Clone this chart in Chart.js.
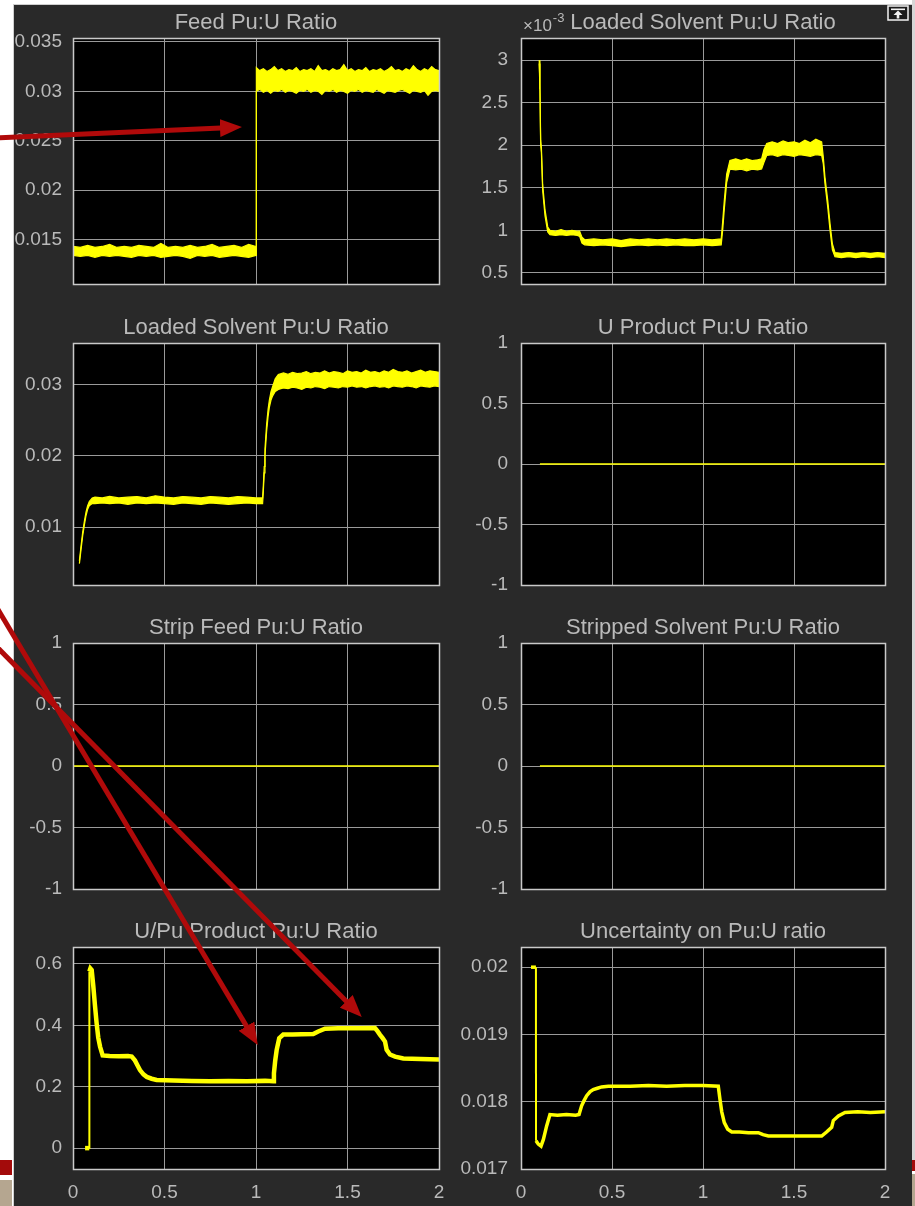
<!DOCTYPE html>
<html>
<head>
<meta charset="utf-8">
<title>Pu:U Ratio scopes</title>
<script src="https://cdn.jsdelivr.net/npm/chart.js@4.4.1/dist/chart.umd.min.js"></script>
<style>
  html, body { margin: 0; padding: 0; background: #ffffff; }
  #page { position: relative; width: 915px; height: 1206px; overflow: hidden; background: #ffffff; }
  #figure { position: absolute; left: 13px; top: 4px; width: 899px; height: 1202px;
            background: #292929; border-left: 1px solid #cfcfcf; border-top: 1px solid #cfcfcf;
            box-sizing: border-box; }
  #edge { position: absolute; left: 912px; top: 0; width: 3px; height: 1160px; background: #d6d6d6; }
  .deco { position: absolute; }
  canvas { position: absolute; }
  #overlay { position: absolute; left: 0; top: 0; pointer-events: none; }
</style>
</head>
<body>
<div id="page">
  <div id="figure"></div>
  <div id="edge"></div>
  <div class="deco" style="left:0;top:1160px;width:12px;height:15px;background:#a30b0b"></div>
  <div class="deco" style="left:0;top:1180px;width:12px;height:26px;background:#b5a690"></div>
  <div class="deco" style="left:912px;top:1160px;width:3px;height:11px;background:#a30b0b"></div>
  <div class="deco" style="left:912px;top:1174px;width:3px;height:32px;background:#b5a690"></div>

  <canvas id="cFeed"      width="441" height="296" style="left:14px;top:4px"></canvas>
  <canvas id="cLoadedTop" width="457" height="296" style="left:455px;top:4px"></canvas>
  <canvas id="cLoaded"    width="441" height="300" style="left:14px;top:300px"></canvas>
  <canvas id="cUProd"     width="457" height="300" style="left:455px;top:300px"></canvas>
  <canvas id="cStrip"     width="441" height="300" style="left:14px;top:600px"></canvas>
  <canvas id="cStripped"  width="457" height="300" style="left:455px;top:600px"></canvas>
  <canvas id="cUPu"       width="441" height="306" style="left:14px;top:900px"></canvas>
  <canvas id="cUncert"    width="457" height="306" style="left:455px;top:900px"></canvas>

  <!-- callout arrows and the undock button drawn over the figure -->
  <svg id="overlay" width="915" height="1206" viewBox="0 0 915 1206">
    <defs>
      <marker id="head" markerUnits="userSpaceOnUse" markerWidth="22" markerHeight="18"
              viewBox="0 0 22 18" refX="1" refY="9" orient="auto">
        <path d="M0,0 L22,9 L0,18 z" fill="#b00a0a"></path>
      </marker>
    </defs>
    <g stroke="#b00a0a" stroke-width="5" fill="none">
      <line x1="-5" y1="138" x2="221" y2="128" marker-end="url(#head)"></line>
      <line x1="-10" y1="596" x2="247" y2="1027" marker-end="url(#head)"></line>
      <line x1="-10" y1="640" x2="347" y2="1002" marker-end="url(#head)"></line>
    </g>
    <g>
      <rect x="888" y="6" width="20" height="14" fill="#1c1c1c" stroke="#f2f2f2" stroke-width="1.5"></rect>
      <rect x="891" y="8.5" width="14" height="1.6" fill="#f2f2f2"></rect>
      <path d="M898,10.5 L902.5,15 L899.3,15 L899.3,18.5 L896.7,18.5 L896.7,15 L893.5,15 z" fill="#f2f2f2"></path>
    </g>
  </svg>
</div>

<script>
// ---- shared axis ----
const timeTicks = [0, 0.5, 1, 1.5, 2];

// ---- Feed Pu:U Ratio (upper / lower edge of the noisy trace) ----
const feedTime = [0, 0.04, 0.08, 0.12, 0.16, 0.2, 0.24, 0.28, 0.32, 0.36, 0.4, 0.44, 0.48, 0.52, 0.56, 0.6, 0.64, 0.68, 0.72, 0.76, 0.8, 0.84, 0.88, 0.92, 0.96, 1.0,
  1.002, 1.02, 1.04, 1.06, 1.08, 1.1, 1.12, 1.14, 1.16, 1.18, 1.2, 1.22, 1.24, 1.26, 1.28, 1.3, 1.32, 1.34, 1.36, 1.38, 1.4,
  1.42, 1.44, 1.46, 1.48, 1.5, 1.52, 1.54, 1.56, 1.58, 1.6, 1.62, 1.64, 1.66, 1.68, 1.7, 1.72, 1.74, 1.76, 1.78, 1.8,
  1.82, 1.84, 1.86, 1.88, 1.9, 1.92, 1.94, 1.96, 1.98, 2.0];
const feedHigh = [0.0143, 0.0142, 0.0144, 0.0142, 0.0143, 0.0145, 0.0142, 0.0143, 0.0142, 0.0144, 0.0143, 0.0142, 0.0146, 0.0142, 0.0143, 0.0142, 0.0144, 0.0142, 0.0143, 0.0145, 0.0142, 0.0143, 0.0144, 0.0142, 0.0145, 0.0143,
  0.0324, 0.0321, 0.0323, 0.0320, 0.0322, 0.0325, 0.0321, 0.0323, 0.0320, 0.0322, 0.0321, 0.0324, 0.0320, 0.0322, 0.0321, 0.0323, 0.0320, 0.0326, 0.0321, 0.0322, 0.0320,
  0.0323, 0.0321, 0.0322, 0.0327, 0.0321, 0.0323, 0.0320, 0.0322, 0.0321, 0.0324, 0.0320, 0.0322, 0.0321, 0.0323, 0.0320, 0.0322, 0.0325, 0.0321, 0.0322, 0.0320,
  0.0323, 0.0321, 0.0326, 0.0322, 0.0320, 0.0323, 0.0321, 0.0325, 0.0322, 0.0321];
const feedLow  = [0.0134, 0.0133, 0.0134, 0.0132, 0.0134, 0.0133, 0.0134, 0.0133, 0.0132, 0.0134, 0.0133, 0.0134, 0.0132, 0.0133, 0.0134, 0.0133, 0.0131, 0.0134, 0.0133, 0.0134, 0.0132, 0.0133, 0.0134, 0.0133, 0.0132, 0.0134,
  0.0300, 0.0302, 0.0299, 0.0301, 0.0298, 0.0301, 0.0300, 0.0302, 0.0299, 0.0301, 0.0300, 0.0298, 0.0301, 0.0300, 0.0302, 0.0299, 0.0301, 0.0300, 0.0297, 0.0301, 0.0300,
  0.0302, 0.0299, 0.0301, 0.0300, 0.0298, 0.0301, 0.0300, 0.0302, 0.0299, 0.0301, 0.0300, 0.0299, 0.0302, 0.0300, 0.0298, 0.0301, 0.0300, 0.0299, 0.0301, 0.0302,
  0.0300, 0.0298, 0.0301, 0.0300, 0.0299, 0.0301, 0.0296, 0.0300, 0.0301, 0.0300];
const feedTicks = [0.015, 0.02, 0.025, 0.03, 0.035];

// ---- Loaded Solvent Pu:U Ratio, right column (values x 10^-3) ----
const loadedTopTime = [0.100, 0.104, 0.108, 0.112, 0.119, 0.132, 0.147, 0.159, 0.19, 0.22, 0.25, 0.28, 0.31, 0.322, 0.335, 0.35,
                       0.40, 0.45, 0.50, 0.55, 0.60, 0.65, 0.70, 0.75, 0.80, 0.85, 0.90, 0.95, 1.00, 1.05, 1.100,
                       1.108, 1.117, 1.130, 1.148, 1.18, 1.21, 1.24, 1.27, 1.30, 1.322, 1.335, 1.350,
                       1.38, 1.41, 1.44, 1.47, 1.50, 1.53, 1.56, 1.59, 1.62, 1.652,
                       1.661, 1.670, 1.685, 1.698, 1.711, 1.725, 1.76, 1.80, 1.84, 1.88, 1.92, 1.96, 2.0];
const loadedTopHigh = [3.00, 2.72, 2.06, 1.98, 1.54, 1.24, 1.04, 1.00, 0.99, 1.01, 0.99, 1.00, 0.99, 0.99, 0.92, 0.89,
                       0.90, 0.89, 0.90, 0.88, 0.90, 0.89, 0.90, 0.89, 0.90, 0.89, 0.90, 0.89, 0.90, 0.89, 0.90,
                       1.10, 1.35, 1.66, 1.82, 1.84, 1.82, 1.84, 1.82, 1.83, 1.84, 1.95, 2.02,
                       2.04, 2.02, 2.05, 2.03, 2.04, 2.02, 2.06, 2.03, 2.07, 2.04,
                       1.86, 1.63, 1.36, 1.08, 0.84, 0.74, 0.73, 0.74, 0.73, 0.74, 0.73, 0.74, 0.73];
const loadedTopLow  = [2.96, 2.66, 2.00, 1.92, 1.47, 1.17, 0.98, 0.95, 0.94, 0.95, 0.94, 0.95, 0.94, 0.93, 0.85, 0.83,
                       0.82, 0.83, 0.82, 0.81, 0.82, 0.83, 0.82, 0.83, 0.82, 0.83, 0.82, 0.82, 0.83, 0.82, 0.83,
                       1.00, 1.25, 1.56, 1.72, 1.71, 1.72, 1.70, 1.72, 1.71, 1.72, 1.80, 1.88,
                       1.89, 1.87, 1.89, 1.88, 1.87, 1.89, 1.88, 1.87, 1.89, 1.88,
                       1.78, 1.55, 1.28, 1.00, 0.77, 0.69, 0.68, 0.69, 0.68, 0.69, 0.68, 0.69, 0.68];
const loadedTopTicks = [0.5, 1, 1.5, 2, 2.5, 3];

// ---- Loaded Solvent Pu:U Ratio, left column ----
const loadedTime = [0.035, 0.044, 0.053, 0.062, 0.071, 0.08, 0.089, 0.105, 0.12,
                    0.16, 0.2, 0.25, 0.3, 0.35, 0.4, 0.45, 0.5, 0.55, 0.6, 0.65, 0.7, 0.75, 0.8, 0.85, 0.9, 0.95, 1.0,
                    1.036, 1.040, 1.045, 1.049, 1.058, 1.066, 1.073, 1.082, 1.091, 1.105, 1.122,
                    1.15, 1.175, 1.2, 1.225, 1.25, 1.275, 1.3, 1.325, 1.35, 1.375, 1.4, 1.425, 1.45, 1.475, 1.5, 1.525, 1.55, 1.575,
                    1.6, 1.625, 1.65, 1.675, 1.7, 1.725, 1.75, 1.775, 1.8, 1.825, 1.85, 1.875, 1.9, 1.925, 1.95, 1.975, 2.0];
const loadedHigh = [0.0053, 0.0074, 0.0093, 0.0108, 0.0121, 0.0130, 0.0136, 0.0141, 0.0142,
                    0.0141, 0.0143, 0.0141, 0.0142, 0.0143, 0.0141, 0.0144, 0.0142, 0.0141, 0.0143, 0.0142, 0.0141, 0.0143, 0.0142, 0.0141, 0.0143, 0.0142, 0.0141,
                    0.0141, 0.0158, 0.0185, 0.0210, 0.0244, 0.0265, 0.0278, 0.0290, 0.0297, 0.0308, 0.0314,
                    0.0316, 0.0314, 0.0317, 0.0315, 0.0316, 0.0318, 0.0315, 0.0317, 0.0316, 0.0319, 0.0316, 0.0318, 0.0317, 0.0315, 0.0319, 0.0317, 0.0318, 0.0316,
                    0.0320, 0.0317, 0.0318, 0.0316, 0.0319, 0.0317, 0.0321, 0.0318, 0.0317, 0.0319, 0.0316, 0.0318, 0.0320, 0.0317, 0.0319, 0.0318, 0.0317];
const loadedLow  = [0.0049, 0.0069, 0.0088, 0.0103, 0.0116, 0.0125, 0.0130, 0.0133, 0.0133,
                    0.0134, 0.0133, 0.0134, 0.0132, 0.0134, 0.0133, 0.0134, 0.0133, 0.0132, 0.0134, 0.0133, 0.0132, 0.0134, 0.0133, 0.0132, 0.0133, 0.0134, 0.0133,
                    0.0133, 0.0150, 0.0176, 0.0200, 0.0234, 0.0255, 0.0268, 0.0278, 0.0284, 0.0290, 0.0293,
                    0.0295, 0.0294, 0.0296, 0.0295, 0.0293, 0.0296, 0.0295, 0.0297, 0.0296, 0.0294, 0.0297, 0.0296, 0.0295, 0.0297, 0.0296, 0.0298, 0.0296, 0.0297,
                    0.0295, 0.0297, 0.0298, 0.0296, 0.0297, 0.0295, 0.0298, 0.0297, 0.0296, 0.0298, 0.0297, 0.0295, 0.0298, 0.0297, 0.0296, 0.0298, 0.0297];
const loadedTicks = [0.01, 0.02, 0.03];

// ---- flat channels ----
const uProductTime = [0.104, 2.0];
const uProductValue = [0, 0];
const stripFeedTime = [0, 2.0];
const stripFeedValue = [0, 0];
const strippedTime = [0.104, 2.0];
const strippedValue = [0, 0];
const unitTicks = [-1, -0.5, 0, 0.5, 1];

// ---- U/Pu Product Pu:U Ratio ----
const uPuTime = [0.066, 0.089, 0.0895, 0.095, 0.102, 0.111, 0.120, 0.129, 0.138, 0.148, 0.162, 0.2, 0.25, 0.3, 0.321,
                 0.339, 0.352, 0.366, 0.385, 0.403, 0.43, 0.457, 0.55, 0.65, 0.75, 0.85, 0.95, 1.05, 1.095,
                 1.098, 1.105, 1.113, 1.127, 1.149, 1.2, 1.25, 1.313, 1.340, 1.377, 1.45, 1.55, 1.650,
                 1.665, 1.678, 1.692, 1.705, 1.714, 1.732, 1.760, 1.805, 1.9, 2.0];
const uPuValue = [0, 0, 0.575, 0.585, 0.58, 0.527, 0.465, 0.407, 0.36, 0.33, 0.302, 0.300, 0.299, 0.300, 0.298,
                  0.285, 0.270, 0.254, 0.240, 0.232, 0.226, 0.222, 0.220, 0.219, 0.218, 0.219, 0.218, 0.219, 0.218,
                  0.244, 0.285, 0.320, 0.358, 0.370, 0.370, 0.371, 0.372, 0.380, 0.389, 0.390, 0.390, 0.391,
                  0.380, 0.369, 0.358, 0.347, 0.320, 0.305, 0.298, 0.292, 0.290, 0.289];
const uPuTicks = [0, 0.2, 0.4, 0.6];

// ---- Uncertainty on Pu:U ratio ----
const uncertTime = [0.055, 0.082, 0.0825, 0.095, 0.110, 0.123, 0.141, 0.159, 0.2, 0.25, 0.3,
                    0.319, 0.333, 0.347, 0.361, 0.38, 0.397, 0.42, 0.443, 0.48, 0.6, 0.7, 0.8, 0.9, 1.0,
                    1.084, 1.093, 1.103, 1.117, 1.136, 1.158, 1.2, 1.25, 1.304, 1.33, 1.359, 1.45, 1.55, 1.652,
                    1.679, 1.707, 1.716, 1.744, 1.780, 1.85, 1.92, 2.0];
const uncertValue = [0.0200, 0.0200, 0.01742, 0.01737, 0.01734, 0.01744, 0.01764, 0.01781, 0.01780, 0.01781, 0.01780,
                     0.01781, 0.01794, 0.01802, 0.01809, 0.01815, 0.01818, 0.01820, 0.01822, 0.01823, 0.01823, 0.01824, 0.01823, 0.01824, 0.01824,
                     0.01823, 0.01804, 0.01785, 0.01769, 0.01759, 0.01755, 0.01755, 0.01754, 0.01754, 0.01751, 0.01749, 0.01749, 0.01749, 0.01749,
                     0.01755, 0.01762, 0.01772, 0.01779, 0.01784, 0.01785, 0.01784, 0.01785];
const uncertTicks = [0.017, 0.018, 0.019, 0.02];

// ---- styling ----
const FONT = '"Liberation Sans", Arial, Helvetica, sans-serif';
const TEXT = '#bababa';
const GRID = '#9a9a9a';
const BOX = '#c9c9c9';
const TRACE = '#ffff00';

const toPoints = (xs, ys) => xs.map((x, i) => ({ x, y: ys[i] }));
const fmt = v => String(+Number(v).toFixed(6));

// noisy trace drawn as the band between its lower and upper edge
function band(time, high, low) {
  return [
    { data: toPoints(time, low), borderColor: TRACE, borderWidth: 1.2, pointRadius: 0, fill: false },
    { data: toPoints(time, high), borderColor: TRACE, borderWidth: 1.2, pointRadius: 0,
      fill: '-1', backgroundColor: TRACE }
  ];
}
// single trace; strictly vertical steps are drawn thinner
function trace(time, values, width) {
  return [{
    data: toPoints(time, values), borderColor: TRACE, borderWidth: width, pointRadius: 0,
    segment: { borderWidth: c => (c.p1.parsed.x - c.p0.parsed.x < 0.001 ? Math.min(2, width) : width) }
  }];
}

// black axes background, box outline and optional exponent label
const panelFrame = {
  id: 'panelFrame',
  beforeDraw(chart) {
    const { ctx, chartArea: a } = chart;
    ctx.save();
    ctx.fillStyle = '#000000';
    ctx.fillRect(a.left, a.top, a.right - a.left, a.bottom - a.top);
    ctx.restore();
  },
  afterDatasetsDraw(chart) {
    const { ctx, chartArea: a } = chart;
    ctx.save();
    ctx.strokeStyle = BOX;
    ctx.lineWidth = 1.5;
    ctx.strokeRect(Math.round(a.left) + 0.5, Math.round(a.top) + 0.5,
                   Math.round(a.right - a.left), Math.round(a.bottom - a.top));
    ctx.restore();
  },
  afterDraw(chart, args, opts) {
    if (!opts.exponent) return;
    const { ctx, chartArea: a } = chart;
    ctx.save();
    ctx.fillStyle = TEXT;
    ctx.textBaseline = 'alphabetic';
    ctx.textAlign = 'left';
    ctx.font = '17px ' + FONT;
    ctx.fillText('\u00d710', a.left + 2, a.top - 7);
    const w = ctx.measureText('\u00d710').width;
    ctx.font = '13px ' + FONT;
    ctx.fillText(opts.exponent, a.left + 3 + w, a.top - 16);
    ctx.restore();
  }
};

function panel(id, p) {
  const tickFont = { family: FONT, size: 19 };
  new Chart(document.getElementById(id), {
    type: 'line',
    data: { datasets: p.datasets },
    options: {
      responsive: false,
      animation: false,
      events: [],
      layout: { padding: { left: 0, top: 0, right: p.right, bottom: p.bottom } },
      plugins: {
        legend: { display: false },
        tooltip: { enabled: false },
        title: {
          display: true, text: p.title, fullSize: false, color: TEXT,
          font: { family: FONT, size: 22, weight: 'normal' },
          padding: { top: p.titleTop + 2, bottom: 2 }
        },
        panelFrame: { exponent: p.exponent || null }
      },
      scales: {
        x: {
          type: 'linear', min: 0, max: 2,
          afterBuildTicks: s => { s.ticks = timeTicks.map(v => ({ value: v })); },
          ticks: { display: p.showX, color: TEXT, font: tickFont, padding: 12, maxRotation: 0,
                   autoSkip: false, callback: v => fmt(v) },
          grid: { color: GRID, lineWidth: 1, drawTicks: false },
          border: { display: false },
          afterFit: s => { s.height = p.showX ? 37 : 0; s.paddingLeft = 0; s.paddingRight = 0; }
        },
        y: {
          type: 'linear', min: p.yMin, max: p.yMax,
          afterBuildTicks: s => { s.ticks = p.yTicks.map(v => ({ value: v })); },
          ticks: { color: TEXT, font: tickFont, padding: p.labelPad, autoSkip: false, callback: v => fmt(v) },
          grid: { color: GRID, lineWidth: 1, drawTicks: false },
          border: { display: false },
          afterFit: s => { s.width = p.yWidth; s.paddingTop = 0; s.paddingBottom = 0; }
        }
      }
    },
    plugins: [panelFrame]
  });
}

const LEFT = { yWidth: 59, right: 16, labelPad: 11 };
const RIGHT = { yWidth: 66, right: 27, labelPad: 13 };

panel('cFeed', { ...LEFT, title: 'Feed Pu:U Ratio', titleTop: 3.6, bottom: 16, showX: false,
  yMin: 0.0105, yMax: 0.0354, yTicks: feedTicks, datasets: band(feedTime, feedHigh, feedLow) });

panel('cLoadedTop', { ...RIGHT, title: 'Loaded Solvent Pu:U Ratio', titleTop: 3.6, bottom: 16, showX: false,
  exponent: '-3', yMin: 0.37, yMax: 3.26, yTicks: loadedTopTicks,
  datasets: band(loadedTopTime, loadedTopHigh, loadedTopLow) });

panel('cLoaded', { ...LEFT, title: 'Loaded Solvent Pu:U Ratio', titleTop: 12.6, bottom: 15, showX: false,
  yMin: 0.0019, yMax: 0.0358, yTicks: loadedTicks, datasets: band(loadedTime, loadedHigh, loadedLow) });

panel('cUProd', { ...RIGHT, title: 'U Product Pu:U Ratio', titleTop: 12.6, bottom: 15, showX: false,
  yMin: -1, yMax: 1, yTicks: unitTicks, datasets: trace(uProductTime, uProductValue, 1.5) });

panel('cStrip', { ...LEFT, title: 'Strip Feed Pu:U Ratio', titleTop: 12.6, bottom: 11, showX: false,
  yMin: -1, yMax: 1, yTicks: unitTicks, datasets: trace(stripFeedTime, stripFeedValue, 1.5) });

panel('cStripped', { ...RIGHT, title: 'Stripped Solvent Pu:U Ratio', titleTop: 12.6, bottom: 11, showX: false,
  yMin: -1, yMax: 1, yTicks: unitTicks, datasets: trace(strippedTime, strippedValue, 1.5) });

panel('cUPu', { ...LEFT, title: 'U/Pu Product Pu:U Ratio', titleTop: 16.6, bottom: 0, showX: true,
  yMin: -0.068, yMax: 0.655, yTicks: uPuTicks, datasets: trace(uPuTime, uPuValue, 4.5) });

panel('cUncert', { ...RIGHT, title: 'Uncertainty on Pu:U ratio', titleTop: 16.6, bottom: 0, showX: true,
  yMin: 0.017, yMax: 0.0203, yTicks: uncertTicks, datasets: trace(uncertTime, uncertValue, 3.5) });
</script>
</body>
</html>
